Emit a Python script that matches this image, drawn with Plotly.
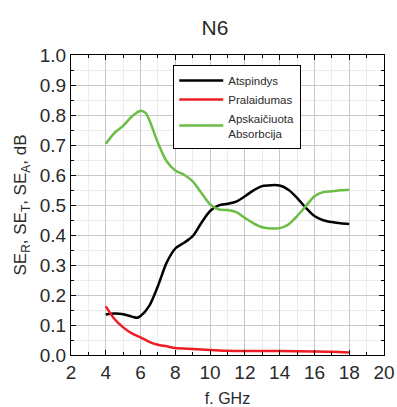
import plotly.graph_objects as go

freq_black = [4, 4.5, 5, 5.5, 5.8, 6, 6.5, 7, 7.5, 8, 8.5, 9, 9.5, 10, 10.5, 11, 11.5, 12, 12.5, 13, 13.5, 14, 14.5, 15, 15.5, 16, 16.5, 17, 17.5, 18]
atspindys = [0.135, 0.138, 0.136, 0.128, 0.124, 0.130, 0.164, 0.230, 0.308, 0.355, 0.374, 0.396, 0.441, 0.480, 0.499, 0.504, 0.511, 0.529, 0.549, 0.563, 0.566, 0.565, 0.551, 0.524, 0.491, 0.463, 0.449, 0.443, 0.439, 0.437]

freq_red = [4, 4.5, 5, 5.5, 6, 6.5, 7, 7.5, 8, 9, 10, 11, 12, 14, 16, 17, 18]
pralaidumas = [0.162, 0.120, 0.092, 0.072, 0.059, 0.044, 0.034, 0.029, 0.023, 0.020, 0.017, 0.014, 0.013, 0.013, 0.012, 0.011, 0.008]

freq_green = [4, 4.5, 5, 5.5, 6, 6.3, 6.5, 7, 7.5, 8, 8.5, 9, 9.5, 10, 10.5, 11, 11.5, 12, 12.5, 13, 13.5, 14, 14.5, 15, 15.5, 16, 16.5, 17, 17.5, 18]
absorbcija = [0.704, 0.740, 0.764, 0.795, 0.814, 0.806, 0.784, 0.707, 0.646, 0.615, 0.601, 0.579, 0.540, 0.502, 0.485, 0.483, 0.476, 0.457, 0.439, 0.426, 0.422, 0.423, 0.435, 0.463, 0.496, 0.529, 0.543, 0.546, 0.549, 0.551]

x_ticks = [2, 4, 6, 8, 10, 12, 14, 16, 18, 20]
y_ticks = [0.0, 0.1, 0.2, 0.3, 0.4, 0.5, 0.6, 0.7, 0.8, 0.9, 1.0]

FONT = "Liberation Sans, Arial, sans-serif"
TXT = "#2a2a2a"

fig = go.Figure()
fig.add_trace(go.Scatter(x=freq_black, y=atspindys, mode="lines", name="Atspindys",
                         line=dict(color="#000000", width=2.5, shape="spline", smoothing=0.8)))
fig.add_trace(go.Scatter(x=freq_red, y=pralaidumas, mode="lines", name="Pralaidumas",
                         line=dict(color="#ee1c24", width=2.5, shape="spline", smoothing=0.8)))
fig.add_trace(go.Scatter(x=freq_green, y=absorbcija, mode="lines", name="Apskaičiuota<br>Absorbcija",
                         line=dict(color="#6cbd45", width=2.5, shape="spline", smoothing=0.8)))

axis_common = dict(
    showline=True, linecolor="#000000", linewidth=1.2, mirror="allticks",
    ticks="inside", ticklen=5, tickcolor="#000000", tickwidth=1.2,
    showgrid=True, gridcolor="#c8c8c8", gridwidth=1, zeroline=False,
    tickfont=dict(family=FONT, size=19, color=TXT),
    ticklabeloverflow="allow",
)

fig.update_xaxes(range=[2, 20], tickvals=x_ticks, ticktext=[str(v) for v in x_ticks],
                 minor=dict(dtick=1, tick0=2, ticks="inside", ticklen=3, tickcolor="#000000",
                            showgrid=True, gridcolor="#ececec", gridwidth=1),
                 title=dict(text="f. GHz", font=dict(family=FONT, size=16, color=TXT), standoff=14),
                 **axis_common)
fig.update_yaxes(range=[0, 1.0], tickvals=y_ticks, ticktext=[f"{v:.1f}" for v in y_ticks],
                 minor=dict(dtick=0.05, tick0=0, ticks="inside", ticklen=3, tickcolor="#000000",
                            showgrid=True, gridcolor="#ececec", gridwidth=1),
                 title=dict(text="SE<sub>R</sub>, SE<sub>T</sub>, SE<sub>A</sub>, dB",
                            font=dict(family=FONT, size=17, color=TXT), standoff=8),
                 **axis_common)

fig.update_layout(
    width=397, height=407,
    margin=dict(l=71, r=13, t=55, b=52, autoexpand=False),
    paper_bgcolor="white", plot_bgcolor="white",
    title=dict(text="N6", x=215 / 397, xanchor="center", y=1 - 28 / 407, yanchor="middle",
               font=dict(family=FONT, size=21, color=TXT)),
    legend=dict(x=0.326, y=0.967, xanchor="left", yanchor="top",
                bgcolor="white", bordercolor="#000000", borderwidth=1.2,
                font=dict(family=FONT, size=11.5, color=TXT),
                tracegroupgap=0, itemwidth=44),
    showlegend=True,
)

fig.write_html("out.html", post_script="document.body.style.margin='0px';",
               config={"displayModeBar": False})
